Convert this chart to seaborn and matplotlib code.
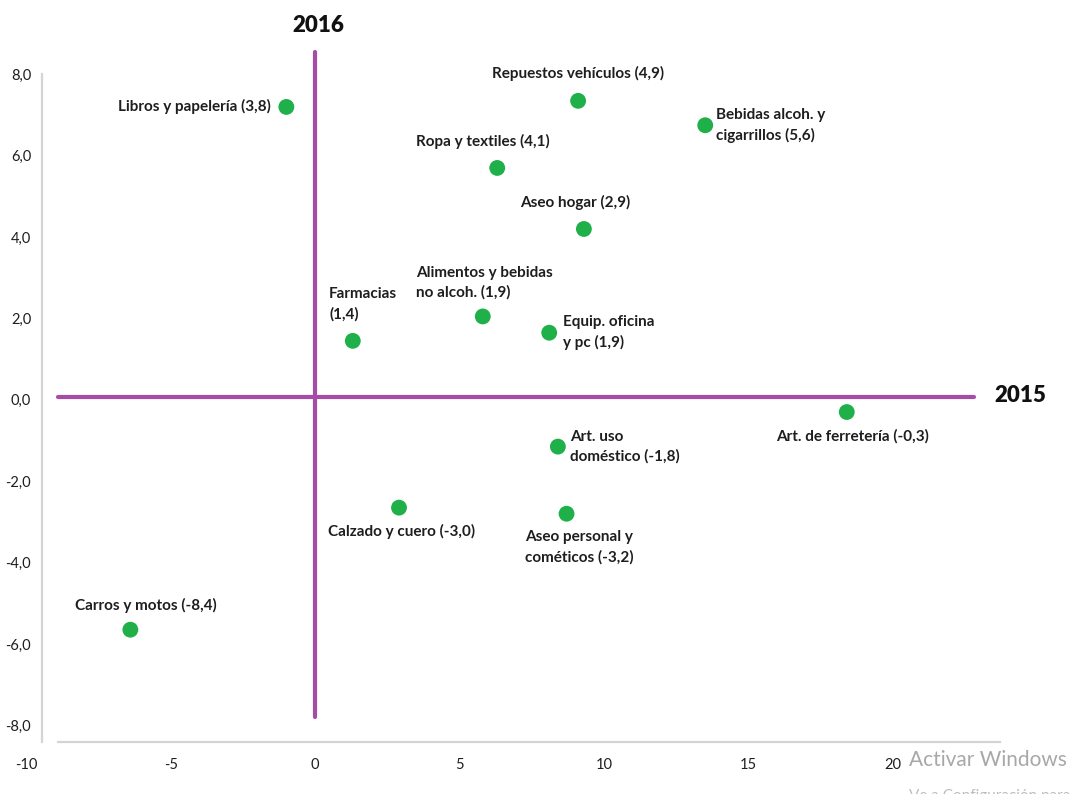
import pandas as pd
import matplotlib.pyplot as plt
import seaborn as sns

# Variacion 2015 (x) vs 2016 (y)
labels = [
    'Libros y papelería (3,8)', 'Repuestos vehículos (4,9)', 'Bebidas alcoh. y\ncigarrillos (5,6)',
    'Ropa y textiles (4,1)', 'Aseo hogar (2,9)', 'Alimentos y bebidas\nno alcoh. (1,9)',
    'Equip. oficina\ny pc (1,9)', 'Farmacias\n(1,4)', 'Art. de ferretería (-0,3)',
    'Art. uso\ndoméstico (-1,8)', 'Calzado y cuero (-3,0)', 'Aseo personal y\ncométicos (-3,2)',
    'Carros y motos (-8,4)',
]
x_2015 = [-1.0, 9.1, 13.5, 6.3, 9.3, 5.8, 8.1, 1.3, 18.4, 8.4, 2.9, 8.7, -6.4]
y_2016 = [7.2, 7.35, 6.75, 5.7, 4.2, 2.05, 1.65, 1.45, -0.3, -1.15, -2.65, -2.8, -5.65]

x_ticks = [-10, -5, 0, 5, 10, 15, 20]
x_tick_labels = ['-10', '-5', '0', '5', '10', '15', '20']
y_ticks = [8, 6, 4, 2, 0, -2, -4, -6, -8]
y_tick_labels = ['8,0', '6,0', '4,0', '2,0', '0,0', '-2,0', '-4,0', '-6,0', '-8,0']

df = pd.DataFrame({'x': x_2015, 'y': y_2016, 'label': labels})

sns.set_style('white')
plt.rcParams['font.family'] = ['Lato', 'DejaVu Sans']

fig = plt.figure(figsize=(10.74, 7.94), dpi=100)
ax = fig.add_axes([0.0084, 0.0353, 0.971, 0.953])

# quadrant lines
purple = '#a64ca6'
ax.plot([0, 0], [-7.8, 8.55], color=purple, lw=3, zorder=1)
ax.plot([-8.9, 22.8], [0.07, 0.07], color=purple, lw=3, zorder=1)

sns.scatterplot(data=df, x='x', y='y', color='#1fb04a', s=130, edgecolor='none', ax=ax, zorder=3)

# label offsets in points (dx, dy, ha, va)
offsets = [
    (-11, 0, 'right', 'center'),
    (0, 14, 'center', 'bottom'),
    (8, 0, 'left', 'center'),
    (-10, 14, 'center', 'bottom'),
    (-6, 14, 'center', 'bottom'),
    (-48, 12, 'left', 'bottom'),
    (10, 0, 'left', 'center'),
    (-17, 14, 'left', 'bottom'),
    (4, -12, 'center', 'top'),
    (9, 0, 'left', 'center'),
    (2, -12, 'center', 'top'),
    (-30, -12, 'left', 'top'),
    (-40, 12, 'left', 'bottom'),
]
for (px, py, lab), (dx, dy, ha, va) in zip(zip(x_2015, y_2016, labels), offsets):
    ax.annotate(lab, (px, py), xytext=(dx, dy), textcoords='offset points',
                ha=ha, va=va, fontsize=11, fontweight='bold', color='#1e1e1e',
                linespacing=1.5)

ax.text(0.1, 9.2, '2016', ha='center', va='center', fontsize=16, fontweight='heavy', color='#111111')
ax.text(23.5, 0.1, '2015', ha='left', va='center', fontsize=16, fontweight='heavy', color='#111111')

ax.set_xlim(-10.6, 25.5)
ax.set_ylim(-9.0, 9.6)
ax.set_xticks(x_ticks)
ax.set_xticklabels(x_tick_labels)
ax.set_yticks(y_ticks)
ax.set_yticklabels(y_tick_labels)
ax.tick_params(length=0, labelsize=10.5, colors='#1e1e1e')
ax.tick_params(axis='y', pad=8)
ax.tick_params(axis='x', pad=12)
for t in ax.get_xticklabels() + ax.get_yticklabels():
    t.set_fontweight('bold')
ax.set_xlabel('')
ax.set_ylabel('')

for side in ['top', 'right']:
    ax.spines[side].set_visible(False)
ax.spines['left'].set_position(('data', -9.45))
ax.spines['left'].set_bounds(-8.4, 8.0)
ax.spines['bottom'].set_position(('data', -8.4))
ax.spines['bottom'].set_bounds(-8.9, 23.7)
for side in ['left', 'bottom']:
    ax.spines[side].set_color('#d4d4d4')
    ax.spines[side].set_linewidth(1.6)

# watermark from the screenshot
fig.text(0.846, 0.035, 'Activar Windows', fontsize=15, color='#a8a8a8')
fig.text(0.846, -0.008, 'Ve a Configuración para activar Windows.', fontsize=11, color='#bdbdbd')

fig.savefig('out.png', dpi=100, facecolor='white')
